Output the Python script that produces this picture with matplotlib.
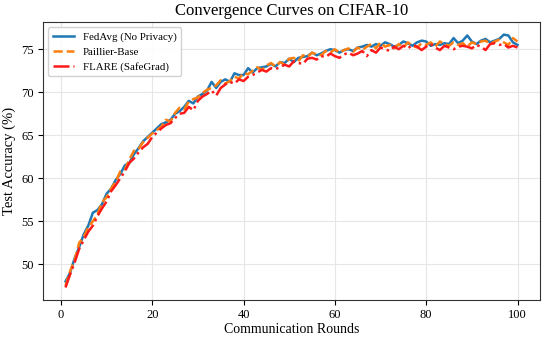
import numpy as np
import matplotlib
matplotlib.use('Agg')
import matplotlib.pyplot as plt

plt.rcParams['font.family'] = ['Liberation Serif', 'DejaVu Serif']

rounds = np.arange(1, 101)

fedavg = [48.0, 49.0, 50.7, 52.0, 53.5, 54.5, 56.0, 56.3, 57.0, 58.2,
          58.8, 59.8, 60.5, 61.5, 61.8, 62.8, 63.5, 64.3, 64.8, 65.3,
          65.8, 66.3, 66.5, 66.8, 67.5, 67.8, 68.3, 69.0, 68.7, 69.5,
          69.8, 70.2, 71.2, 70.5, 71.2, 71.5, 71.2, 72.2, 72.0, 72.0,
          72.8, 72.3, 72.8, 72.9, 73.0, 73.3, 73.0, 73.5, 73.4, 73.9,
          73.5, 74.0, 74.1, 74.2, 74.6, 74.3, 74.5, 74.8, 75.0, 74.9,
          74.6, 74.9, 75.0, 74.8, 75.2, 75.3, 75.5, 75.3, 75.6, 75.4,
          75.8, 75.6, 75.3, 75.5, 75.9, 75.7, 75.4, 75.8, 76.0, 75.9,
          75.4, 75.6, 75.5, 75.7, 75.6, 76.3, 75.7, 76.0, 76.6, 75.9,
          75.6, 76.0, 76.2, 75.8, 76.0, 76.2, 76.7, 76.6, 75.8, 75.5]

paillier = [47.5, 49.2, 50.5, 52.5, 53.2, 54.3, 55.0, 55.8, 57.2, 57.8,
            58.8, 59.6, 60.8, 61.0, 62.2, 63.2, 63.4, 64.2, 64.7, 65.2,
            65.6, 66.0, 66.8, 66.6, 67.6, 68.2, 68.0, 68.9, 69.2, 69.4,
            69.9, 70.3, 70.5, 70.8, 71.4, 71.0, 71.3, 71.8, 71.6, 72.2,
            72.1, 72.5, 72.9, 72.6, 73.1, 73.4, 73.0, 73.5, 73.2, 73.9,
            74.0, 73.6, 74.3, 74.1, 74.6, 74.4, 74.3, 74.8, 74.6, 75.0,
            74.6, 74.9, 75.1, 74.7, 75.2, 74.9, 75.3, 75.6, 75.1, 75.8,
            75.3, 75.5, 75.1, 75.6, 75.2, 75.8, 75.4, 75.2, 75.7, 75.5,
            75.8, 75.3, 75.9, 75.6, 75.4, 75.8, 75.5, 75.7, 75.3, 75.8,
            75.6, 75.9, 76.0, 75.6, 75.9, 76.1, 75.8, 75.5, 76.3, 75.9]

flare = [47.3, 48.8, 50.2, 51.8, 52.8, 53.8, 54.5, 55.6, 56.5, 57.3,
         58.5, 59.2, 60.0, 60.8, 61.8, 62.3, 63.0, 63.6, 64.0, 64.8,
         65.3, 65.8, 66.2, 66.4, 67.0, 67.5, 67.6, 68.3, 67.9, 69.0,
         69.5, 69.8, 70.2, 69.6, 70.5, 70.9, 71.2, 71.0, 71.5, 71.3,
         71.8, 72.0, 72.3, 72.6, 72.4, 72.8, 72.7, 72.9, 73.2, 73.0,
         73.6, 73.4, 73.3, 73.9, 74.0, 73.8, 74.2, 74.1, 74.5, 74.2,
         74.0, 74.4, 74.6, 74.3, 74.5, 74.8, 74.2, 74.9, 74.6, 75.2,
         75.0, 74.8, 75.3, 75.0, 75.4, 75.1, 75.5, 75.3, 74.9, 75.3,
         75.6, 75.2, 74.9, 75.4, 75.2, 75.0, 75.3, 75.4, 75.3, 75.1,
         75.5, 75.3, 74.9, 75.6, 75.7, 75.5, 75.6, 75.2, 75.4, 75.2]

fig = plt.figure(figsize=(5.5, 3.38), dpi=100)
ax = fig.add_axes([0.078, 0.112, 0.904, 0.823])
ax.plot(rounds, fedavg, color='#1f77b4', lw=1.8, ls='-', label='FedAvg (No Privacy)')
ax.plot(rounds, paillier, color='#ff7f0e', lw=1.8, ls='--', label='Paillier-Base')
ax.plot(rounds, flare, color='#ff1a1a', lw=1.8, ls='-.', label='FLARE (SafeGrad)')
ax.set_xlabel('Communication Rounds', fontsize=10, labelpad=1)
ax.set_ylabel('Test Accuracy (%)', fontsize=10.5, labelpad=4)
ax.set_title('Convergence Curves on CIFAR-10', fontsize=12, pad=5)
ax.set_xticks([0, 20, 40, 60, 80, 100])
ax.set_yticks([50, 55, 60, 65, 70, 75])
ax.tick_params(labelsize=9, pad=3)
ax.grid(True, color='#e6e6e6', lw=0.8)
ax.set_axisbelow(True)
for s in ax.spines.values():
    s.set_color('#333333')
ax.legend(loc='upper left', fontsize=7.8, handlelength=2.0, framealpha=0.9,
          edgecolor='#cccccc')
fig.savefig('out.png', dpi=100)
